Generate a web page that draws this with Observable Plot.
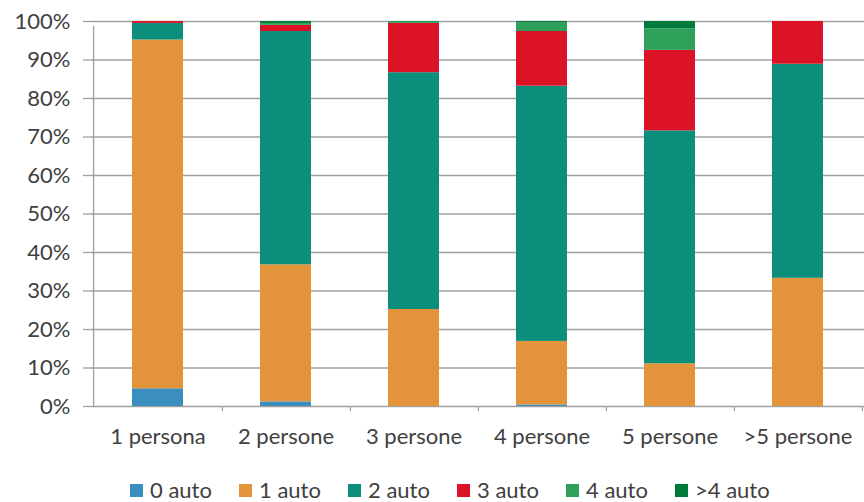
<!DOCTYPE html>
<html>
<head>
<meta charset="utf-8">
<script src="https://cdn.jsdelivr.net/npm/d3@7"></script>
<script src="https://cdn.jsdelivr.net/npm/@observablehq/plot@0.6"></script>
<style>
  html, body { margin: 0; padding: 0; background: #fff; }
  body { width: 864px; height: 502px; overflow: hidden; font-family: Lato, "Noto Sans", sans-serif; }
  #chart svg { display: block; }
  g[aria-label="y-axis tick"] { stroke: #a0a0a0; }
  #legend { display: flex; padding-left: 130px; margin-top: 15px; height: 30px; align-items: center; }
  .item { width: 109px; display: flex; align-items: center; font-size: 22px; color: #404040; line-height: 30px; white-space: nowrap; }
  .sw { width: 13px; height: 13px; margin-right: 7px; flex: none; }
</style>
</head>
<body>
<div id="chart"></div>
<div id="legend"></div>
<script>
const categories = ["1 persona", "2 persone", "3 persone", "4 persone", "5 persone", ">5 persone"];
const seriesNames = ["0 auto", "1 auto", "2 auto", "3 auto", "4 auto", ">4 auto"];
const seriesColors = ["#3A8FBF", "#E3943B", "#0B8F7C", "#DC1226", "#2EA05A", "#007A3A"];

// percent of households per category
const auto0 = [4.6, 1.2, 0, 0.4, 0, 0];
const auto1 = [90.6, 35.6, 25.2, 16.5, 11.1, 33.3];
const auto2 = [4.3, 60.6, 61.5, 66.3, 60.5, 55.6];
const auto3 = [0.5, 1.6, 12.8, 14.2, 20.9, 11.1];
const auto4 = [0, 0.5, 0.5, 2.2, 5.6, 0];
const auto5 = [0, 0.5, 0, 0.4, 1.9, 0];

const yTicks = [0, 10, 20, 30, 40, 50, 60, 70, 80, 90, 100];

const seriesValues = [auto0, auto1, auto2, auto3, auto4, auto5];
const data = seriesNames.flatMap((s, i) =>
  categories.map((c, j) => ({cat: c, series: s, value: seriesValues[i][j]}))
);

const W = 864, H = 460, mL = 91, mR = 0, mT = 21, mB = 54;
const step = (W - mL - mR) / categories.length;
const gray = "#a0a0a0";

const chart = Plot.plot({
  width: W,
  height: H,
  marginLeft: mL,
  marginRight: mR,
  marginTop: mT,
  marginBottom: mB,
  style: {fontFamily: "Lato, 'Noto Sans', sans-serif", fontSize: "22px", color: "#404040", background: "#fff", overflow: "visible"},
  x: {domain: categories, paddingInner: 0.6, paddingOuter: 0.3, axis: null, label: null},
  y: {domain: [0, 100], axis: null, label: null},
  color: {domain: seriesNames, range: seriesColors},
  marks: [
    Plot.gridY(yTicks, {stroke: gray, strokeOpacity: 1, strokeWidth: 1.3}),
    Plot.barY(data, {x: "cat", y: "value", fill: "series"}),
    Plot.ruleX([categories[0]], {dx: -step / 2, y1: 0, y2: 100, insetBottom: -5, stroke: gray, strokeWidth: 1.3}),
    Plot.ruleX(categories, {dx: step / 2, y1: 0, y2: 0, insetBottom: -5, stroke: gray, strokeWidth: 1.3}),
    Plot.axisY(yTicks, {tickSize: 8, tickPadding: 13, tickFormat: d => d + "%", fontSize: 22, strokeWidth: 1.3, label: null}),
    Plot.axisX({tickSize: 0, tickPadding: 22, fontSize: 22, label: null})
  ]
});
document.getElementById("chart").appendChild(chart);

const legend = document.getElementById("legend");
seriesNames.forEach((s, i) => {
  const item = document.createElement("div");
  item.className = "item";
  const sw = document.createElement("span");
  sw.className = "sw";
  sw.style.background = seriesColors[i];
  const t = document.createElement("span");
  t.textContent = s;
  item.appendChild(sw);
  item.appendChild(t);
  legend.appendChild(item);
});
</script>
</body>
</html>
